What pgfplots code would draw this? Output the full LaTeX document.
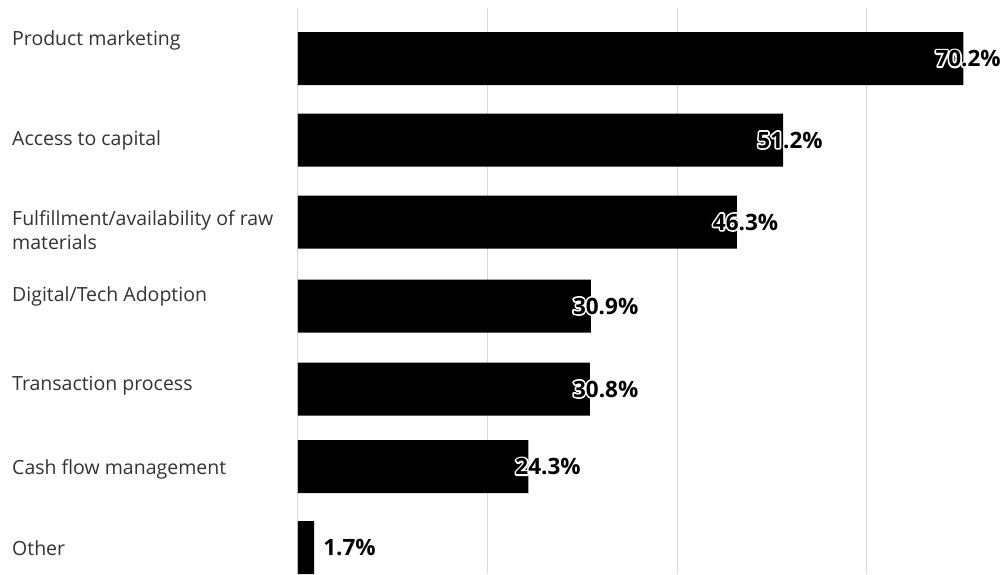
\documentclass[border=0pt]{standalone}
\usepackage{fontspec}
\setmainfont{Open Sans}
\usepackage{pgfplots}
\usepackage{pgfplotstable}
\pgfplotsset{compat=1.18}
\definecolor{gridgrey}{HTML}{D9D9D9}
\definecolor{labelgrey}{HTML}{333333}
% white halo: stroke the glyphs in white first, then set them normally
\newcommand\halo[1]{\rlap{\special{pdf:literal direct 1 Tr 3.4 w 1 j 1 1 1 RG}#1\special{pdf:literal direct 0 Tr 0 G 1 w}}#1}

% y = bar centre in px from the top, x = share in %, dx = label shift
\pgfplotstableread{
y x dx lab
58.5 70.2 -28 70.2\%
140 51.2 -26 51.2\%
222 46.3 -24 46.3\%
306 30.9 -18 30.9\%
389 30.8 -17 30.8\%
466.5 24.3 -13 24.3\%
547.5 1.7 9 1.7\%
}\challenges

\begin{document}
\begin{tikzpicture}
\path[use as bounding box] (0,0) rectangle (1005pt,574pt);
\begin{axis}[
  at={(298pt,0pt)}, anchor=south west,
  scale only axis, width=707pt, height=566pt,
  xmin=0, xmax=74.6,
  ymin=8, ymax=574, y dir=reverse,
  axis line style={draw=none},
  xtick={20,40,60}, xticklabels={},
  xmajorgrids, major grid style={gridgrey, line width=1pt},
  extra x ticks={0}, extra x tick labels={},
  extra x tick style={grid style={black, line width=1.3pt}},
  major tick length=0pt,
  ytick={40,140,230,296,386,469,548},
  yticklabels={Product marketing, Access to capital,
    {Fulfillment/availability of raw\\materials},
    Digital/Tech Adoption, Transaction process,
    Cash flow management, Other},
  yticklabel style={anchor=west, xshift=-286pt, inner xsep=0pt,
    align=left, font=\fontsize{19.5}{24}\selectfont, text=labelgrey},
]
\addplot[xbar, bar width=53pt, fill=black, draw=none,
  point meta=explicit symbolic,
  visualization depends on={\thisrow{dx} \as \dx},
  nodes near coords={\halo{\pgfplotspointmeta}},
  every node near coord/.append style={anchor=west, inner sep=0pt,
    xshift=\dx pt, font=\fontsize{22.5}{26}\selectfont\bfseries, text=black},
] table[x=x, y=y, meta=lab] {\challenges};
\end{axis}
\end{tikzpicture}
\end{document}
